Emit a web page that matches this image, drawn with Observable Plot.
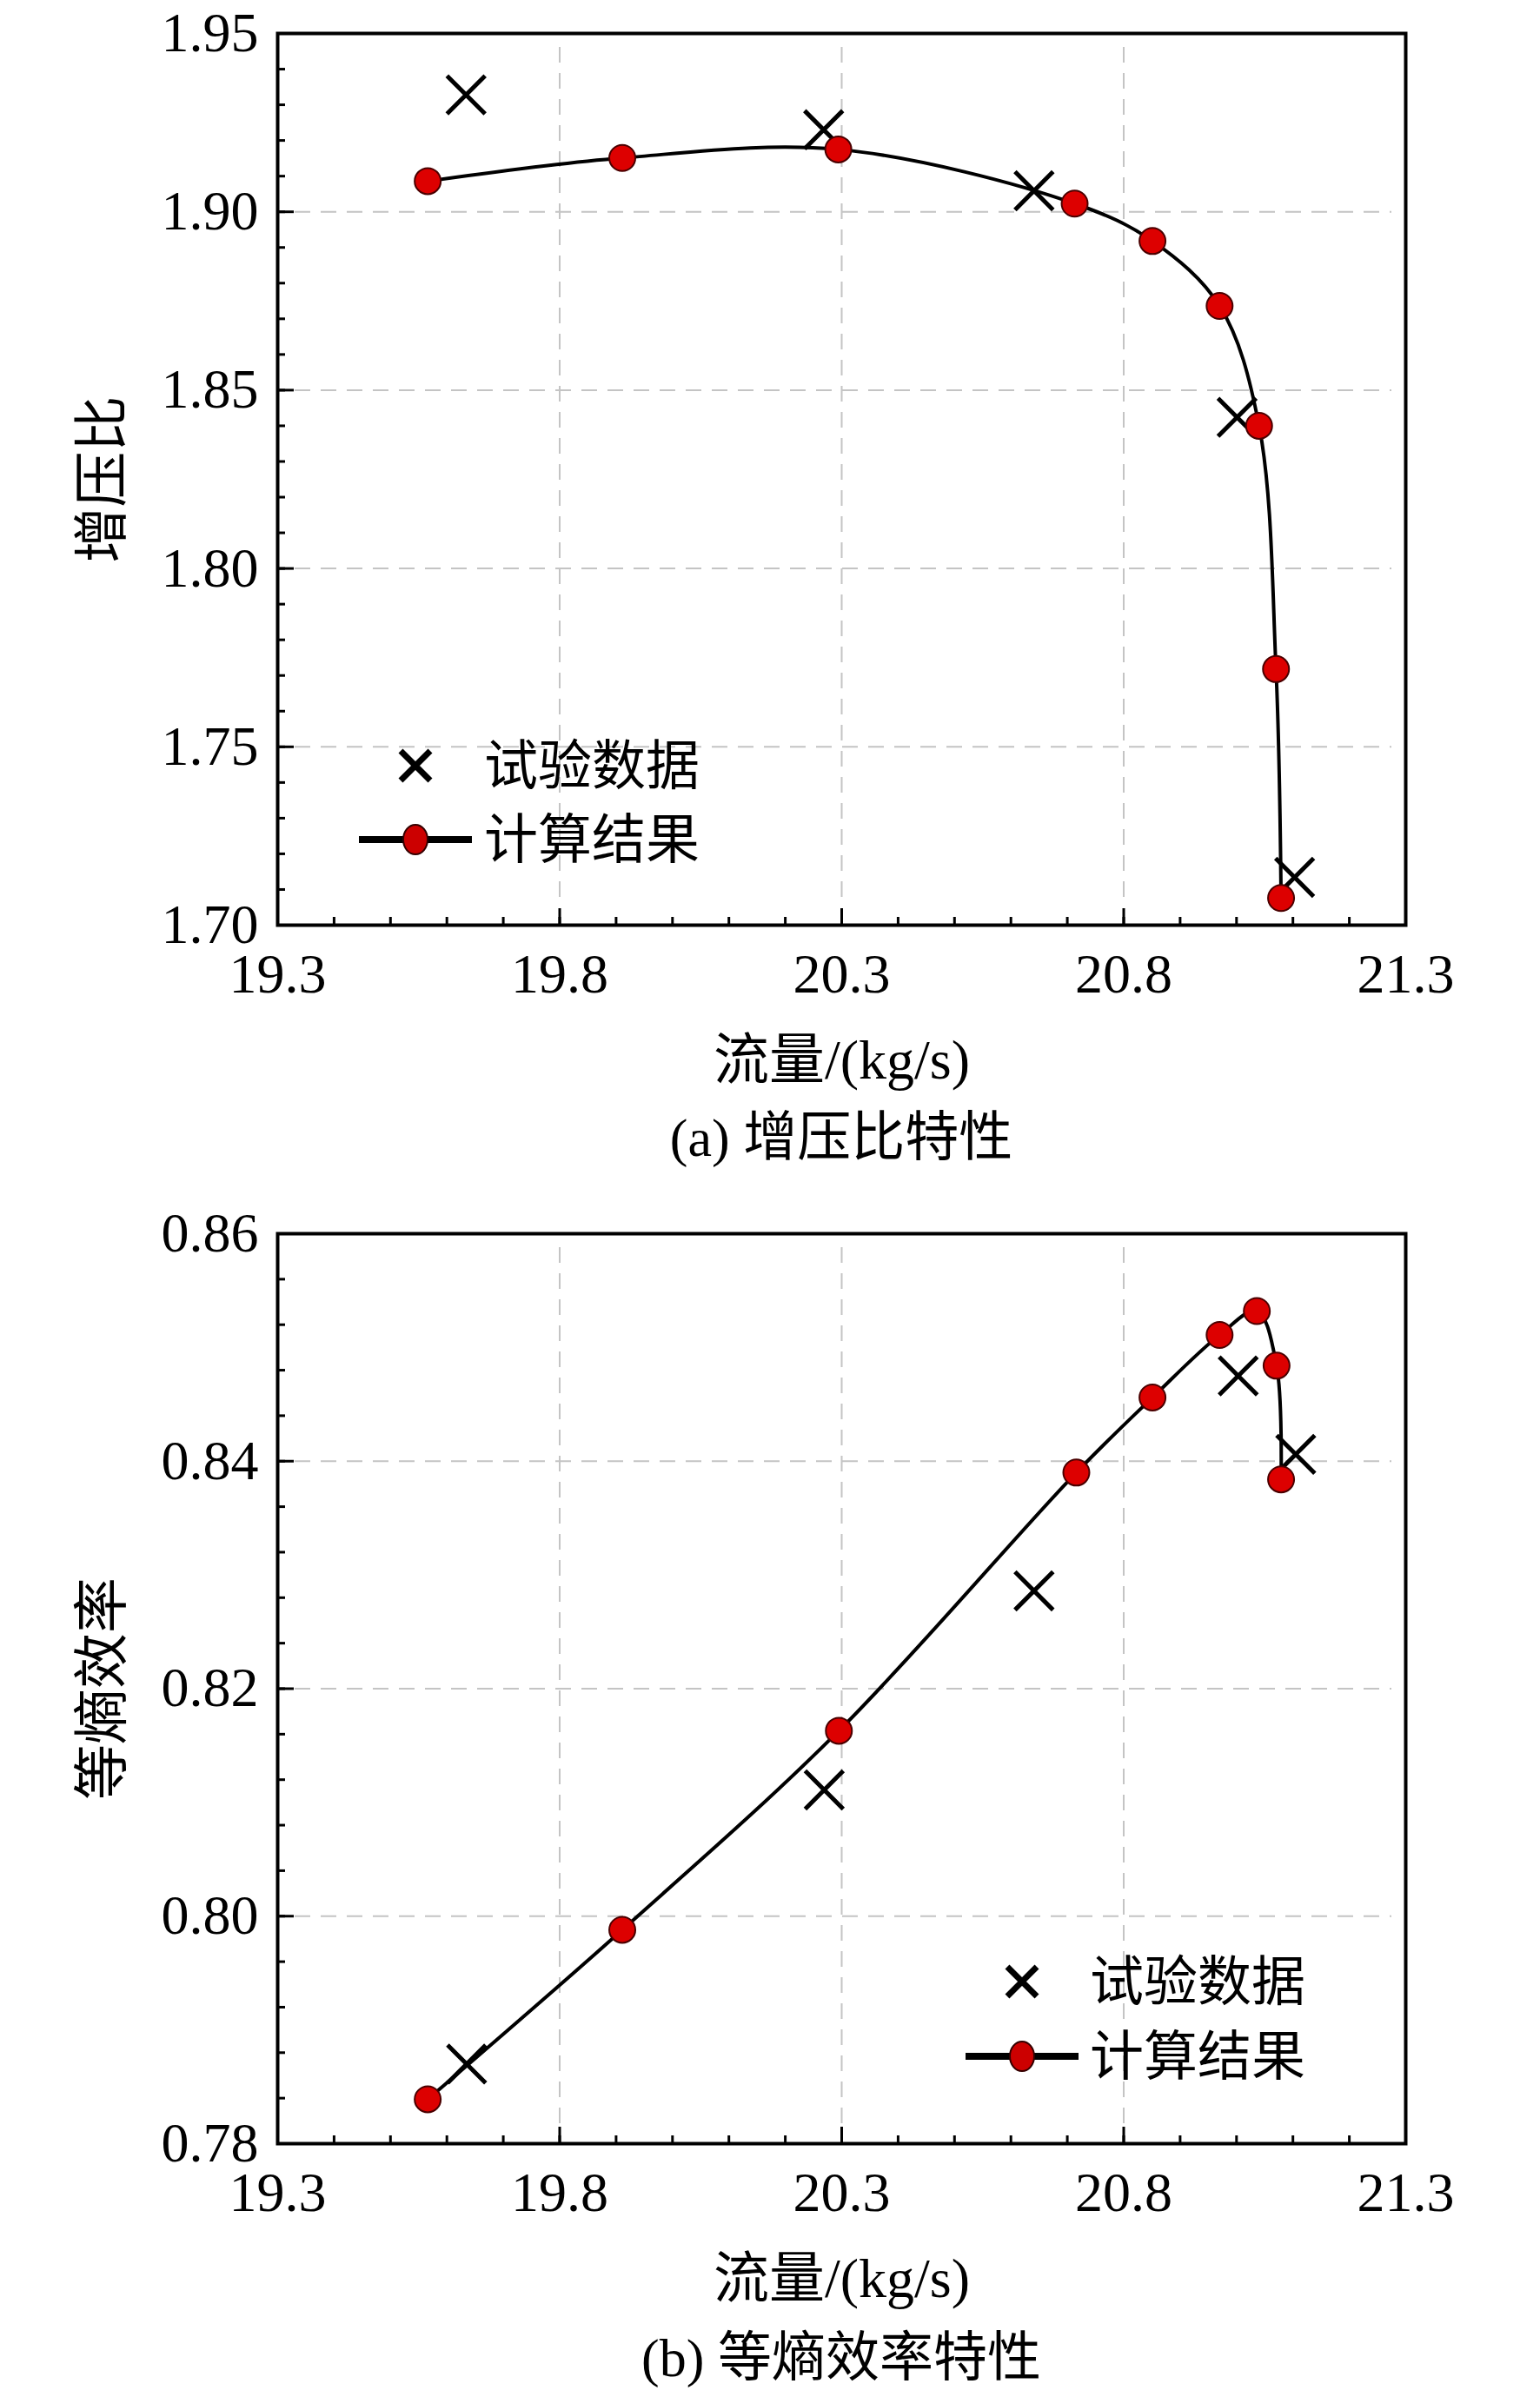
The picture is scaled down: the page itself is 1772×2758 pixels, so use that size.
<!DOCTYPE html>
<html><head><meta charset="utf-8">
<script src="https://cdn.jsdelivr.net/npm/d3@7"></script>
<script src="https://cdn.jsdelivr.net/npm/@observablehq/plot@0.6"></script>
<style>
body{margin:0;background:#fff;}
#root{position:relative;width:1772px;height:2758px;overflow:hidden;background:#fff;font-family:"Liberation Serif","Noto Sans CJK SC",serif;color:#000;}
.fig{position:absolute;left:0;}
.caption{position:absolute;left:319px;width:1298px;text-align:center;font-size:62px;line-height:62px;white-space:nowrap;}
.legend{position:absolute;left:0;top:0;}
</style></head><body><div id="root"></div>
<script>
// ---- shared axis ----
const flowTicks = [19.3, 19.8, 20.3, 20.8, 21.3];
const flowLabel = "流量/(kg/s)";

// ---- (a) pressure ratio ----
const prTicks = [1.70, 1.75, 1.80, 1.85, 1.90, 1.95];
const prLabel = "增压比";
const prCaption = "(a) 增压比特性";
const calcFlowA = [19.566, 19.911, 20.294, 20.713, 20.851, 20.970, 21.040, 21.070, 21.079];
const calcPR    = [1.9086, 1.9151, 1.9175, 1.9023, 1.8918, 1.8736, 1.8400, 1.7718, 1.7076];
const expFlowA  = [19.634, 20.268, 20.641, 21.001, 21.103];
const expPR     = [1.9328, 1.9230, 1.9059, 1.8424, 1.7134];

// ---- (b) isentropic efficiency ----
const effTicks = [0.78, 0.80, 0.82, 0.84, 0.86];
const effLabel = "等熵效率";
const effCaption = "(b) 等熵效率特性";
const calcFlowB = [19.566, 19.911, 20.295, 20.716, 20.851, 20.970, 21.036, 21.071, 21.079];
const calcEff   = [0.7839, 0.7988, 0.8163, 0.8390, 0.8456, 0.8511, 0.8532, 0.8484, 0.8384];
const expFlowB  = [19.635, 20.269, 20.641, 21.003, 21.105];
const expEff    = [0.7870, 0.8111, 0.8286, 0.8475, 0.8406];

const legendNames = ["试验数据", "计算结果"];

const W = 1772, ML = 319, MR = 155;
const FONT = '"Liberation Serif","Noto Sans CJK SC",serif';
const root = document.getElementById("root");

function chart({xs, ys, ex, ey, yTicks, yMinorStep, yLabel, height, marginTop, marginBottom}) {
  const ph = height - marginTop - marginBottom, pw = W - ML - MR;
  const calc = xs.map((x, i) => ({x, y: ys[i]}));
  const exp = ex.map((x, i) => ({x, y: ey[i]}));
  const y0 = yTicks[0], y1 = yTicks[yTicks.length - 1];
  const xMinor = d3.range(0, 21).map(i => +(flowTicks[0] + i * 0.1).toFixed(3));
  const nY = Math.round((y1 - y0) / yMinorStep);
  const yMinor = d3.range(0, nY + 1).map(i => +(y0 + i * yMinorStep).toFixed(4));
  const grid = {stroke: "#c4c4c4", strokeWidth: 2, strokeDasharray: "18,12"};
  const tick = {stroke: "#000", strokeWidth: 3};
  return Plot.plot({
    width: W, height, marginLeft: ML, marginRight: MR, marginTop, marginBottom,
    style: {fontFamily: FONT, fontSize: "64px", color: "#000", background: "#fff", overflow: "visible"},
    x: {domain: [flowTicks[0], flowTicks[flowTicks.length - 1]]},
    y: {domain: [y0, y1]},
    marks: [
      Plot.ruleX(flowTicks.slice(1, -1), {...grid, insetTop: 16, insetBottom: 20}),
      Plot.ruleY(yTicks.slice(1, -1), {...grid, insetLeft: 20, insetRight: 16}),
      Plot.ruleX(xMinor, {...tick, insetTop: ph - 9}),
      Plot.ruleX(flowTicks, {...tick, insetTop: ph - 19}),
      Plot.ruleY(yMinor, {...tick, insetRight: pw - 9}),
      Plot.ruleY(yTicks, {...tick, insetRight: pw - 19}),
      Plot.axisX({ticks: flowTicks, tickSize: 0, tickPadding: 32, tickFormat: d => d.toFixed(1),
        label: flowLabel, labelAnchor: "center", labelArrow: "none", labelOffset: 176, fontSize: 64}),
      Plot.axisY({ticks: yTicks, tickSize: 0, tickPadding: 22, tickFormat: d => d.toFixed(2),
        label: yLabel, labelAnchor: "center", labelArrow: "none", labelOffset: 226, fontSize: 64}),
      Plot.line(calc, {x: "x", y: "y", curve: "catmull-rom", stroke: "#000", strokeWidth: 4}),
      Plot.dot(exp, {x: "x", y: "y", symbol: "times", r: 20, stroke: "#000", strokeWidth: 5}),
      Plot.dot(calc, {x: "x", y: "y", r: 15, fill: "#dd0000", stroke: "#4a0000", strokeWidth: 2}),
      Plot.frame({stroke: "#000", strokeWidth: 4})
    ]
  });
}

function place(el, top) {
  el.classList.add("fig");
  el.style.top = top + "px";
  root.appendChild(el);
}

function caption(text, top) {
  const d = document.createElement("div");
  d.className = "caption";
  d.style.top = top + "px";
  d.textContent = text;
  root.appendChild(d);
}

function legend(cx, y1, y2, textX) {
  const svg = d3.create("svg").attr("class", "legend").attr("width", W).attr("height", 2758)
    .style("position", "absolute").style("left", "0px").style("top", "0px")
    .style("font-family", FONT).style("font-size", "62px");
  const s = 17;
  svg.append("path").attr("d", `M${cx - s},${y1 - s}L${cx + s},${y1 + s}M${cx - s},${y1 + s}L${cx + s},${y1 - s}`)
    .attr("stroke", "#000").attr("stroke-width", 7).attr("fill", "none");
  svg.append("line").attr("x1", cx - 65).attr("x2", cx + 65).attr("y1", y2).attr("y2", y2)
    .attr("stroke", "#000").attr("stroke-width", 8);
  svg.append("ellipse").attr("cx", cx).attr("cy", y2).attr("rx", 14).attr("ry", 17)
    .attr("fill", "#cc0000").attr("stroke", "#300").attr("stroke-width", 2);
  svg.append("text").attr("x", textX).attr("y", y1).attr("dy", "0.36em").text(legendNames[0]);
  svg.append("text").attr("x", textX).attr("y", y2).attr("dy", "0.36em").text(legendNames[1]);
  root.appendChild(svg.node());
}

place(chart({xs: calcFlowA, ys: calcPR, ex: expFlowA, ey: expPR, yTicks: prTicks, yMinorStep: 0.01,
  yLabel: prLabel, height: 1260, marginTop: 38, marginBottom: 196}), 0);
caption(prCaption, 1278);
legend(478, 881, 966, 557);

place(chart({xs: calcFlowB, ys: calcEff, ex: expFlowB, ey: expEff, yTicks: effTicks, yMinorStep: 0.004,
  yLabel: effLabel, height: 1250, marginTop: 34, marginBottom: 169}), 1385);
caption(effCaption, 2682);
legend(1176, 2280, 2366, 1254);
</script>
</body></html>
